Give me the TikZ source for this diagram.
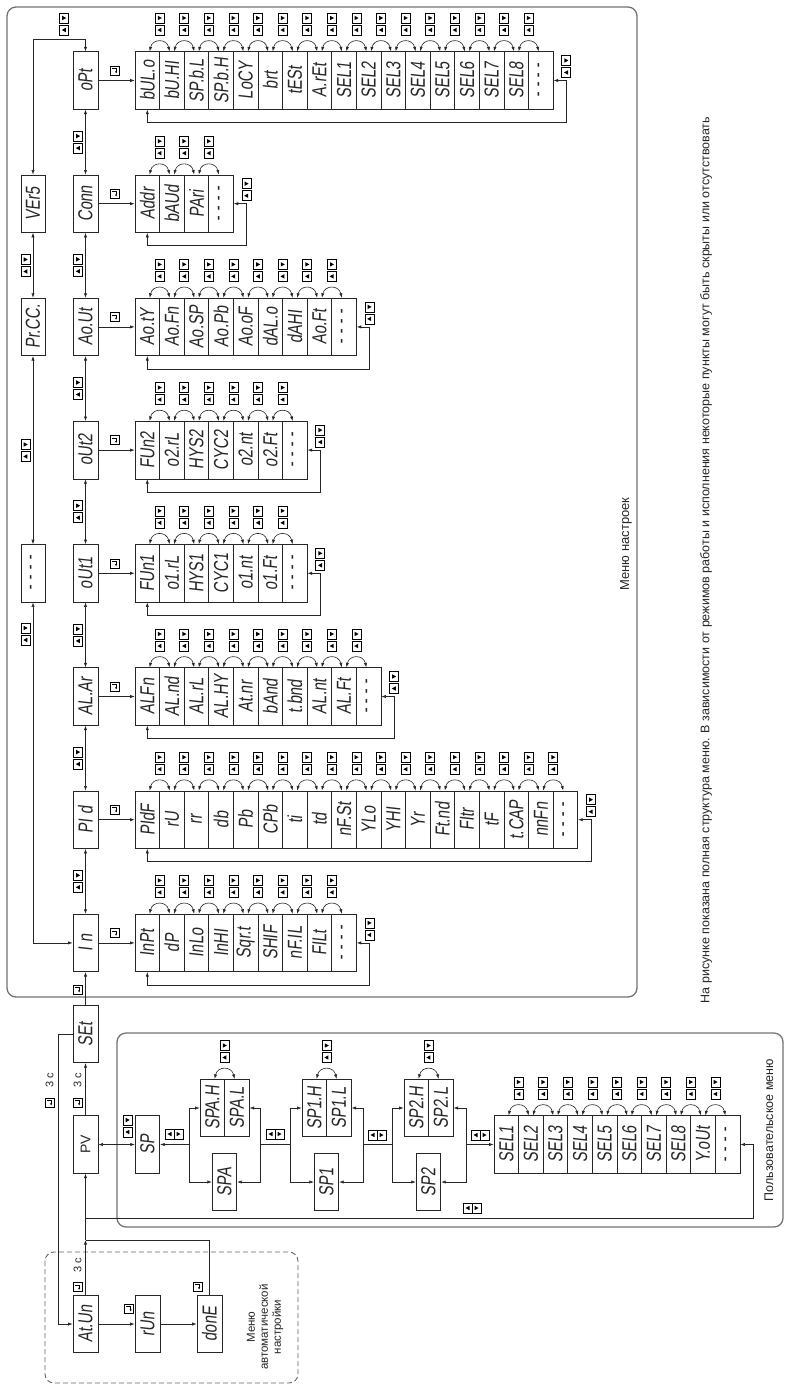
\documentclass[tikz,border=0pt]{standalone}
\usepackage{fontspec}
\setmainfont{Liberation Sans}
\newfontfamily\segfont[FakeSlant=0.15]{Liberation Sans}
\usetikzlibrary{arrows.meta,calc}
\newcommand\sg[1]{\rotatebox{90}{\scalebox{1.0}[1.35]{#1}}}
\newcommand\rtx[1]{\rotatebox{90}{#1}}
\newcommand\dd{-\hspace{5pt}-\hspace{5pt}-\hspace{5pt}-}
\tikzset{
  lnk/.style={line width=0.6pt, draw=black!85},
  pbox/.style={draw=black!85, line width=0.7pt, minimum width=24.6pt, minimum height=57.5pt, inner sep=0pt, text=black!85, font=\segfont\fontsize{15}{15}\selectfont},
  mbox/.style={pbox, minimum width=25pt},
  lbox/.style={pbox, minimum width=24pt},
  arr/.style={lnk, -{Latex[length=4.5pt,width=3.2pt]}},
  arrb/.style={lnk, {Latex[length=4.5pt,width=3.2pt]}-{Latex[length=4.5pt,width=3.2pt]}},
  outerbox/.style={draw=black!55, line width=1.3pt, rounded corners=9pt},
  dashbox/.style={draw=black!60, line width=0.9pt, dashed, dash pattern=on 5pt off 3pt, rounded corners=9pt},
  lbl/.style={rotate=90, text=black!85, inner sep=0pt},
  ud/.pic={
    \draw[line width=0.5pt] (-4.5,-11) rectangle (4.5,-1);
    \draw[line width=0.5pt] (-4.5,1) rectangle (4.5,11);
    \fill (-1.8,-8.2) -- (2.2,-6) -- (-1.8,-3.8) -- cycle;
    \fill (1.8,3.8) -- (-2.2,6) -- (1.8,8.2) -- cycle;
  },
  lr/.pic={
    \draw[line width=0.5pt] (-9,-5) rectangle (0,5);
    \draw[line width=0.5pt] (0,-5) rectangle (9,5);
    \fill (-2.5,-2.2) -- (-6.5,0) -- (-2.5,2.2) -- cycle;
    \fill (2.5,-2.2) -- (6.5,0) -- (2.5,2.2) -- cycle;
  },
  ent/.pic={
    \draw[line width=0.5pt] (-4.5,-4.5) rectangle (4.5,4.5);
    \draw[line width=0.5pt, -{Latex[length=2pt,width=2.2pt]}] (-2.6,-2) -- (1.6,-2) -- (1.6,2.9);
  }
}
% row of parameter boxes with arcs and icons: prefix, x0, yc, n, items
\newcommand\prow[5]{%
  \foreach \tx [count=\i] in {#5} {\node[pbox] (#1\i) at ({#2+12.3+24.6*(\i-1)},#3) {\sg{\tx}};}
  \foreach \i in {2,...,#4} {\pgfmathtruncatemacro\j{\i-1}
    \draw[arrb] ([xshift=2.3pt]#1\j.north) .. controls +(3,-13) and +(-3,-13) .. ([xshift=-2.3pt]#1\i.north);
    \pic at ({#2+24.6*\j},{#3-56.5}) {ud};}
}
% parameter list of a menu item: prefix, parent, yc, n, items
\newcommand\plist[5]{%
  \prow{#1}{135}{#3}{#4}{#5}
  \draw[arr] (#2.east) -- (#11.west);
  \pic at (114.5,{#3-10}) {ent};
  \draw[arrb] (#1#4.east) -- ++(13,0) -- ++(0,42) -| (#11.south);
  \pic at ({135+24.6*#4+13},{#3-14}) {ud};
}
\begin{document}
\begin{tikzpicture}[x=1pt,y=-1pt]
\useasboundingbox (0,0) rectangle (787,1386);
\fill[white] (0,0) rectangle (787,1386);

% frames
\draw[outerbox] (7,7) rectangle (637,997);
\draw[outerbox] (117,1033) rectangle (783,1227);
\draw[dashbox] (45,1252) rectangle (298,1383);

\node[lbl, font=\fontsize{13}{15}\selectfont] (tset) at (626,544) {Меню настроек};
\node[lbl, font=\fontsize{12.5}{14}\selectfont] (tuser) at (769,1130) {Пользовательское меню};
\node[lbl, align=center, font=\fontsize{11.5}{13}\selectfont] (tauto) at (265,1327) {Меню\\автоматической\\настройки};
\node[lbl, font=\fontsize{12.5}{14}\selectfont] (tnote) at (706,560) {На рисунке показана полная структура меню. В зависимости от режимов работы и исполнения некоторые пункты могут быть скрыты или отсутствовать};

% main column
\node[mbox] (opt)  at (85.5,80.5)  {\sg{oPt}};
\node[mbox] (conn) at (85.5,203.7) {\sg{Conn}};
\node[mbox] (aout) at (85.5,326.9) {\sg{Ao.Ut}};
\node[mbox] (out2) at (85.5,450.1) {\sg{oUt2}};
\node[mbox] (out1) at (85.5,573.3) {\sg{oUt1}};
\node[mbox] (alar) at (85.5,696.5) {\sg{AL.Ar}};
\node[mbox] (pid)  at (85.5,819.7) {\sg{PI d}};
\node[mbox] (inp)  at (85.5,942.9) {\sg{I n}};
\node[mbox] (set)  at (85.5,1034)  {\sg{SEt}};
\node[mbox, font=\fontsize{14}{14}\selectfont] (pv) at (85.5,1144.5) {\rtx{PV}};
\node[mbox] (atun) at (85.5,1324)  {\sg{At.Un}};
\node[mbox] (run)  at (147.5,1324) {\sg{rUn}};
\node[mbox] (done) at (209.5,1324) {\sg{donE}};

% left column
\node[lbox] (vers) at (33,203.7) {\sg{VEr5}};
\node[lbox] (prcc) at (33,326.9) {\sg{Pr.CC.}};
\node[lbox] (ldsh) at (33,573.3) {\sg{\dd}};

% main column links
\foreach \a/\b in {opt/conn, conn/aout, aout/out2, out2/out1, out1/alar, alar/pid, pid/inp} {
  \draw[arrb] (\a.south) -- (\b.north);
  \pic at ($(\a.south)!0.5!(\b.north)+(-7.5,0)$) {ud};
}
\draw[arrb] (opt.north) -- ++(0,-12.5) -| (vers.north);
\pic at (64,24) {ud};
\draw[arrb] (vers.south) -- (prcc.north);
\pic at (25.5,265.5) {ud};
\draw[arrb] (prcc.south) -- (ldsh.north);
\pic at (25.5,450.5) {ud};
\draw[arrb] (ldsh.south) |- (inp.west);
\pic at (25.5,634) {ud};

% parameter lists
\plist{op}{opt}{80.5}{17}{bUL.o,bU.HI,SP.b.L,SP.b.H,LoCY,brt,tESt,A.rEt,SEL1,SEL2,SEL3,SEL4,SEL5,SEL6,SEL7,SEL8,\dd}
\plist{cn}{conn}{203.7}{4}{Addr,bAUd,PAri,\dd}
\plist{ao}{aout}{326.9}{9}{Ao.tY,Ao.Fn,Ao.SP,Ao.Pb,Ao.oF,dAL.o,dAHI,Ao.Ft,\dd}
\plist{tw}{out2}{450.1}{7}{FUn2,o2.rL,HYS2,CYC2,o2.nt,o2.Ft,\dd}
\plist{on}{out1}{573.3}{7}{FUn1,o1.rL,HYS1,CYC1,o1.nt,o1.Ft,\dd}
\plist{al}{alar}{696.5}{10}{ALFn,AL.nd,AL.rL,AL.HY,At.nr,bAnd,t.bnd,AL.nt,AL.Ft,\dd}
\plist{pd}{pid}{819.7}{18}{PIdF,rU,rr,db,Pb,CPb,ti,td,nF.St,YLo,YHI,Yr,Ft.nd,FItr,tF,t.CAP,nnFn,\dd}
\plist{in}{inp}{942.9}{9}{InPt,dP,InLo,InHI,Sqr.t,SHIF,nF.IL,FILt,\dd}

% SET / PV / autotuning
\draw[arr] (set.north) -- (inp.south);
\pic at (77.5,989.5) {ent};
\draw[arr] (pv.north) -- (set.south);
\pic at (77.5,1102.5) {ent};
\node[lbl, font=\fontsize{11}{11}\selectfont] (t3b) at (77.5,1080) {3 с};
\draw[arr] (set.west) -- ++(-14,0) |- (atun.west);
\pic at (49.5,1102.5) {ent};
\node[lbl, font=\fontsize{11}{11}\selectfont] (t3a) at (49.5,1080) {3 с};
\draw[arr] (atun.east) -- (run.west);
\pic at (129,1308.5) {ent};
\draw[arr] (run.east) -- (done.west);
\pic at (197.5,1286.5) {ent};
\pic at (77.5,1287) {ent};
\node[lbl, font=\fontsize{11}{11}\selectfont] (t3c) at (77.5,1265) {3 с};
\coordinate (jret) at (85.5,1218);
\coordinate (jd) at (85.5,1240);
\draw[arr] (atun.north) -- (jd);
\draw[lnk] (jd) -- (jret);
\draw[lnk] (done.north) |- (jd);

% user menu
\node[pbox] (sp) at (147.5,1144.5) {\sg{SP}};
\draw[arrb] (pv.east) -- (sp.west);
\pic at (127.5,1126) {ud};
\prow{pa}{200}{1108}{2}{SPA.H,SPA.L}
\node[pbox] (spa) at (224.5,1182) {\sg{SPA}};
\prow{pb}{302}{1108}{2}{SP1.H,SP1.L}
\node[pbox] (sp1) at (326.5,1182) {\sg{SP1}};
\prow{pc}{404}{1108}{2}{SP2.H,SP2.L}
\node[pbox] (sp2) at (428.5,1182) {\sg{SP2}};
\prow{us}{494}{1144.5}{10}{SEL1,SEL2,SEL3,SEL4,SEL5,SEL6,SEL7,SEL8,Y.oUt,\dd}

\coordinate (ba) at (189,1144.5);
\coordinate (ra) at (260,1144.5);
\coordinate (bb) at (290,1144.5);
\coordinate (rb) at (363,1144.5);
\coordinate (bc) at (392,1144.5);
\coordinate (rc) at (466,1144.5);
\draw[lnk, {Latex[length=4.5pt,width=3.2pt]}-] (sp.east) -- (ba);
\pic at (174,1134) {lr};
\draw[arr] (ba) |- (pa1.west);
\draw[arr] (ba) |- (spa.west);
\draw[arr] (ra) |- (pa2.east);
\draw[arr] (ra) |- (spa.east);
\draw[lnk] (ra) -- (bb);
\pic at (275,1134) {lr};
\draw[arr] (bb) |- (pb1.west);
\draw[arr] (bb) |- (sp1.west);
\draw[arr] (rb) |- (pb2.east);
\draw[arr] (rb) |- (sp1.east);
\draw[lnk] (rb) -- (bc);
\pic at (377,1135) {lr};
\draw[arr] (bc) |- (pc1.west);
\draw[arr] (bc) |- (sp2.west);
\draw[arr] (rc) |- (pc2.east);
\draw[arr] (rc) |- (sp2.east);
\draw[arr] (rc) -- (us1.west);
\pic at (480,1135) {lr};
\draw[arrb] (us10.east) -- ++(13,0) |- (jret) -- (pv.south);
\pic at (472,1208) {lr};
\end{tikzpicture}
\end{document}
